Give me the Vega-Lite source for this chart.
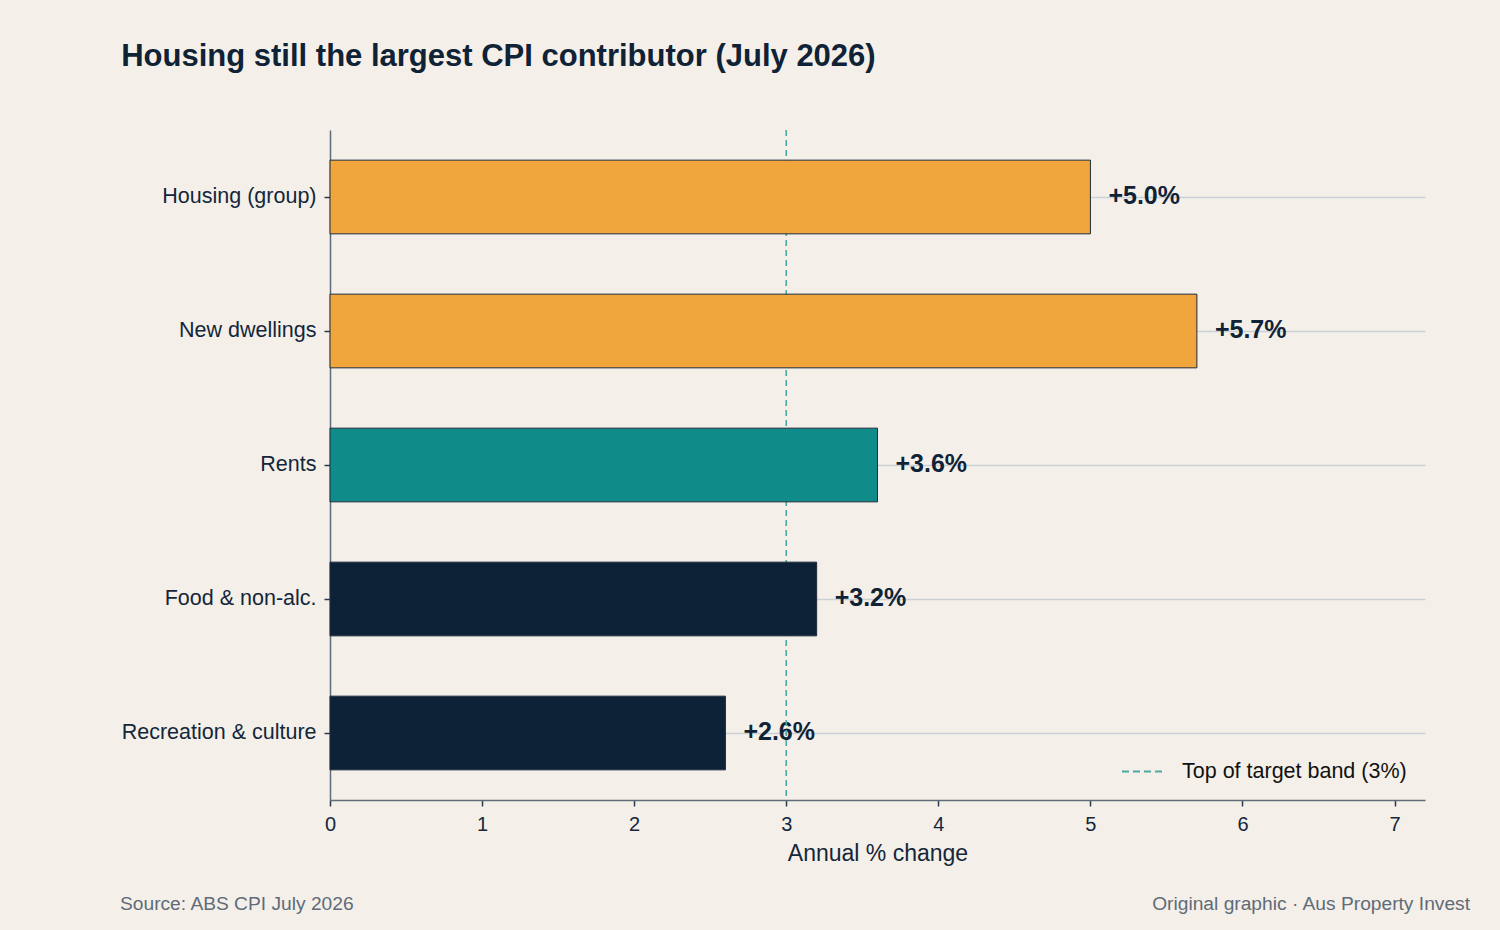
{
  "$schema": "https://vega.github.io/schema/vega-lite/v6.json",
  "background": "#F4F0E9",
  "padding": {"left": 120, "top": 41, "right": 30, "bottom": 20},
  "spacing": 29,
  "resolve": {
    "scale": {"stroke": "independent", "fill": "independent"},
    "legend": {"stroke": "independent", "fill": "independent"}
  },
  "config": {
    "font": "Liberation Sans",
    "view": {"stroke": null},
    "axisX": {
      "grid": false,
      "domainColor": "#5E6B78",
      "domainWidth": 1.5,
      "tickColor": "#2B3A4A",
      "tickWidth": 1.5,
      "tickSize": 6,
      "labelFontSize": 20,
      "labelColor": "#14263A",
      "labelPadding": 8,
      "labelFlush": false,
      "titleFontSize": 23,
      "titleFontWeight": "normal",
      "titleColor": "#14263A",
      "titlePadding": 8
    },
    "axisY": {
      "grid": true,
      "gridColor": "#CBD0D7",
      "gridWidth": 1.5,
      "domainColor": "#5E6B78",
      "domainWidth": 1.5,
      "tickColor": "#2B3A4A",
      "tickWidth": 1.5,
      "tickSize": 6,
      "labelFontSize": 21.5,
      "labelColor": "#14263A",
      "labelPadding": 8,
      "labelLimit": 0,
      "title": null
    }
  },
  "vconcat": [
    {
      "title": {
        "text": "Housing still the largest CPI contributor (July 2026)",
        "anchor": "start",
        "fontSize": 31,
        "fontWeight": "bold",
        "color": "#0F2236",
        "offset": 56
      },
      "width": 1095,
      "height": 670,
      "data": {
        "values": [
          {"category": "Housing (group)", "value": 5.0, "label": "+5.0%"},
          {"category": "New dwellings", "value": 5.7, "label": "+5.7%"},
          {"category": "Rents", "value": 3.6, "label": "+3.6%"},
          {"category": "Food & non-alc.", "value": 3.2, "label": "+3.2%"},
          {"category": "Recreation & culture", "value": 2.6, "label": "+2.6%"}
        ]
      },
      "layer": [
        {
          "mark": {
            "type": "text",
            "align": "left",
            "baseline": "middle",
            "dx": 18,
            "dy": -1,
            "fontSize": 25,
            "fontWeight": "bold",
            "color": "#0F2236"
          },
          "encoding": {
            "y": {
              "field": "category",
              "type": "nominal",
              "sort": null,
              "scale": {"paddingInner": 0.45, "paddingOuter": 0.225}
            },
            "x": {
              "field": "value",
              "type": "quantitative",
              "title": "Annual % change",
              "scale": {"domain": [0, 7.2], "nice": false},
              "axis": {"values": [0, 1, 2, 3, 4, 5, 6, 7], "format": "d"}
            },
            "text": {"field": "label", "type": "nominal"}
          }
        },
        {
          "data": {"values": [{"level": 3, "series": "Top of target band (3%)"}]},
          "mark": {"type": "rule", "strokeDash": [6, 4], "strokeWidth": 1.6},
          "encoding": {
            "x": {
              "field": "level",
              "type": "quantitative",
              "title": "Annual % change",
              "scale": {"domain": [0, 7.2], "nice": false}
            },
            "stroke": {
              "field": "series",
              "type": "nominal",
              "scale": {"range": ["#4AA9A1"]},
              "legend": {
                "title": null,
                "orient": "bottom-right",
                "offset": 18,
                "symbolType": "stroke",
                "symbolSize": 1681,
                "symbolStrokeWidth": 2,
                "symbolDash": [7, 4],
                "labelFontSize": 21.5,
                "labelColor": "#111111",
                "labelOffset": 18,
                "labelLimit": 0
              }
            }
          }
        },
        {
          "mark": {"type": "bar", "stroke": "#1C2A3A", "strokeWidth": 1},
          "encoding": {
            "y": {
              "field": "category",
              "type": "nominal",
              "sort": null,
              "scale": {"paddingInner": 0.45, "paddingOuter": 0.225}
            },
            "x": {
              "field": "value",
              "type": "quantitative",
              "title": "Annual % change",
              "scale": {"domain": [0, 7.2], "nice": false}
            },
            "fill": {
              "field": "category",
              "type": "nominal",
              "scale": {
                "domain": ["Housing (group)", "New dwellings", "Rents", "Food & non-alc.", "Recreation & culture"],
                "range": ["#F0A63C", "#F0A63C", "#0F8B8A", "#0E2237", "#0E2237"]
              },
              "legend": null
            }
          }
        }
      ]
    },
    {
      "spacing": 0,
      "hconcat": [
        {
          "width": 570,
          "height": 1,
          "data": {"values": []},
          "mark": "point",
          "title": {
            "text": "Source: ABS CPI July 2026",
            "anchor": "start",
            "fontSize": 19.2,
            "fontWeight": "normal",
            "color": "#5F6B78",
            "offset": 0,
            "dx": -210
          }
        },
        {
          "width": 570,
          "height": 1,
          "data": {"values": []},
          "mark": "point",
          "title": {
            "text": "Original graphic · Aus Property Invest",
            "anchor": "end",
            "fontSize": 19.2,
            "fontWeight": "normal",
            "color": "#5F6B78",
            "offset": 0
          }
        }
      ]
    }
  ]
}
